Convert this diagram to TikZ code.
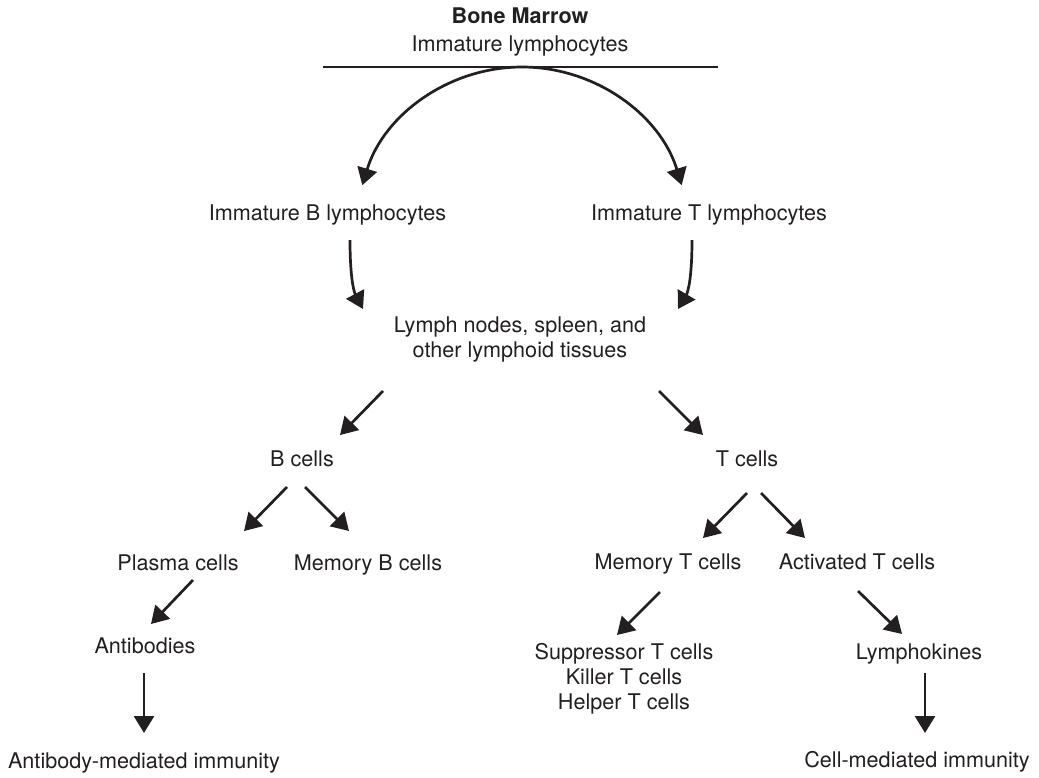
\documentclass[tikz,border=0pt]{standalone}
\usepackage{fontspec}
\setmainfont{TeX Gyre Heros}
\usetikzlibrary{arrows.meta}
\definecolor{ink}{HTML}{231F20}
\begin{document}
\begin{tikzpicture}[x=1pt,y=1pt,
  lbl/.style={inner sep=0pt, anchor=base, text=ink, font=\fontsize{21.6}{25}\selectfont},
  mlbl/.style={lbl, anchor=north, align=center},
  arr/.style={draw=ink, line width=2.7pt, -{Triangle[length=17pt,width=20pt]}},
  rulel/.style={draw=ink, line width=2.5pt}]
\useasboundingbox (0,0) rectangle (1039,-777);
% labels
\node[lbl, font=\fontsize{21.6}{25}\selectfont\bfseries] (bm) at (520,-23) {Bone Marrow};
\node[lbl] (il) at (520,-51.5) {Immature lymphocytes};
\node[lbl] (ib) at (327.5,-220.5) {Immature B lymphocytes};
\node[lbl] (it) at (709,-220.5) {Immature T lymphocytes};
\node[mlbl] (ly) at (520,-316.5) {Lymph nodes, spleen, and\\other lymphoid tissues};
\node[lbl] (bc) at (302,-466.5) {B cells};
\node[lbl] (tc) at (747,-466.5) {T cells};
\node[lbl] (pc) at (178,-570) {Plasma cells};
\node[lbl] (mb) at (368,-570) {Memory B cells};
\node[lbl] (mt) at (668,-569.5) {Memory T cells};
\node[lbl] (at) at (857,-569.5) {Activated T cells};
\node[lbl] (ab) at (145,-653) {Antibodies};
\node[mlbl] (st) at (624,-643.5) {Suppressor T cells\\Killer T cells\\Helper T cells};
\node[lbl] (lk) at (919,-659.5) {Lymphokines};
\node[lbl] (ami) at (144,-768) {Antibody-mediated immunity};
\node[lbl] (cmi) at (917,-767.5) {Cell-mediated immunity};
% coordinates for connector ends
\coordinate (rl) at (323,-67);
\coordinate (rr) at (718,-67);
\coordinate (top) at (522,-67);
\coordinate (ib-s) at (350,-240);  \coordinate (ib-e) at (363,-309);
\coordinate (it-s) at (692,-240);  \coordinate (it-e) at (678,-309);
\coordinate (ly-sl) at (383,-391); \coordinate (bc-n) at (340,-435);
\coordinate (ly-sr) at (659,-391); \coordinate (tc-n) at (703,-435);
\coordinate (bc-sl) at (287,-487); \coordinate (pc-n) at (244,-531);
\coordinate (bc-sr) at (305,-487); \coordinate (mb-n) at (349,-531);
\coordinate (pc-s) at (193,-580);  \coordinate (ab-n) at (151,-624);
\coordinate (ab-s) at (144,-673);  \coordinate (ami-n) at (144,-733);
\coordinate (tc-sl) at (747,-493); \coordinate (mt-n) at (703,-538);
\coordinate (tc-sr) at (761,-493); \coordinate (at-n) at (805,-538);
\coordinate (mt-s) at (660,-592);  \coordinate (st-n) at (617,-635);
\coordinate (at-s) at (858,-591);  \coordinate (lk-n) at (902,-634);
\coordinate (lk-s) at (925,-673);  \coordinate (cmi-n) at (925,-733);
% rule
\draw[rulel] (rl) -- (rr);
% arcs
\draw[arr] (top) arc[start angle=90, end angle=163, radius=167pt];
\draw[arr] (top) arc[start angle=90, end angle=17, radius=167pt];
% curved arrows
\draw[arr] (ib-s) .. controls (350,-278) and (354,-292) .. (ib-e);
\draw[arr] (it-s) .. controls (692,-278) and (688,-292) .. (it-e);
% straight arrows
\draw[arr] (ly-sl) -- (bc-n);
\draw[arr] (ly-sr) -- (tc-n);
\draw[arr] (bc-sl) -- (pc-n);
\draw[arr] (bc-sr) -- (mb-n);
\draw[arr] (pc-s) -- (ab-n);
\draw[arr] (ab-s) -- (ami-n);
\draw[arr] (tc-sl) -- (mt-n);
\draw[arr] (tc-sr) -- (at-n);
\draw[arr] (mt-s) -- (st-n);
\draw[arr] (at-s) -- (lk-n);
\draw[arr] (lk-s) -- (cmi-n);
\end{tikzpicture}
\end{document}
